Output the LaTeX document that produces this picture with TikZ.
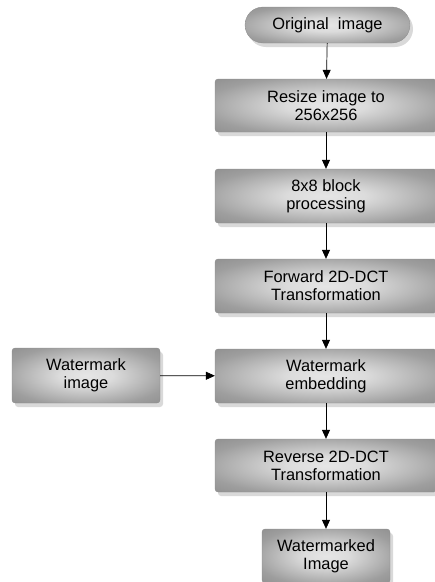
\documentclass[tikz,border=0pt]{standalone}
\usepackage{fontspec}
\setmainfont{Liberation Sans}
\usetikzlibrary{arrows.meta,shadows}
\pgfdeclareradialshading{boxshade}{\pgfpoint{0bp}{0bp}}{color(0bp)=(black!10); color(9bp)=(black!14); color(28bp)=(black!38); color(40bp)=(black!46); color(75bp)=(black!50)}
\tikzset{
  flowbox/.style={rectangle, rounded corners=3pt, shading=boxshade, draw=black!45, line width=0.3pt,
    align=center, inner sep=0pt, font=\fontsize{16.4}{18}\selectfont,
    drop shadow={shadow xshift=3pt, shadow yshift=-4pt, opacity=0.15, fill=black}},
  flowarrow/.style={draw=black, line width=0.7pt, -{Triangle[length=9pt,width=8pt]}}
}
\begin{document}
\begin{tikzpicture}[x=1pt,y=-1pt]
\useasboundingbox (0,0) rectangle (435,582);
\clip (0,0) rectangle (435,582);
\node[flowbox, rounded corners=18pt, minimum width=165pt, minimum height=36pt] (orig) at (327.5,25) {Original\ \ image};
\node[flowbox, minimum width=222pt, minimum height=53pt] (resize) at (326,105.5) {Resize image to\\256x256};
\node[flowbox, minimum width=222pt, minimum height=54pt] (block) at (326,196) {8x8 block\\processing};
\node[flowbox, minimum width=222pt, minimum height=54pt] (fwd) at (326,286) {Forward 2D-DCT\\Transformation};
\node[flowbox, minimum width=222pt, minimum height=54pt] (emb) at (326,376) {Watermark\\embedding};
\node[flowbox, minimum width=222pt, minimum height=53pt] (rev) at (326,465.5) {Reverse 2D-DCT\\Transformation};
\node[flowbox, minimum width=128pt, minimum height=54pt] (out) at (326,556) {Watermarked\\Image};
\node[flowbox, minimum width=148pt, minimum height=55pt] (wm) at (86,375.5) {Watermark\\image};
\draw[flowarrow] (orig) -- (resize);
\draw[flowarrow] (resize) -- (block);
\draw[flowarrow] (block) -- (fwd);
\draw[flowarrow] (fwd) -- (emb);
\draw[flowarrow] (emb) -- (rev);
\draw[flowarrow] (rev) -- (out);
\draw[flowarrow] (wm) -- (emb);
\end{tikzpicture}
\end{document}
